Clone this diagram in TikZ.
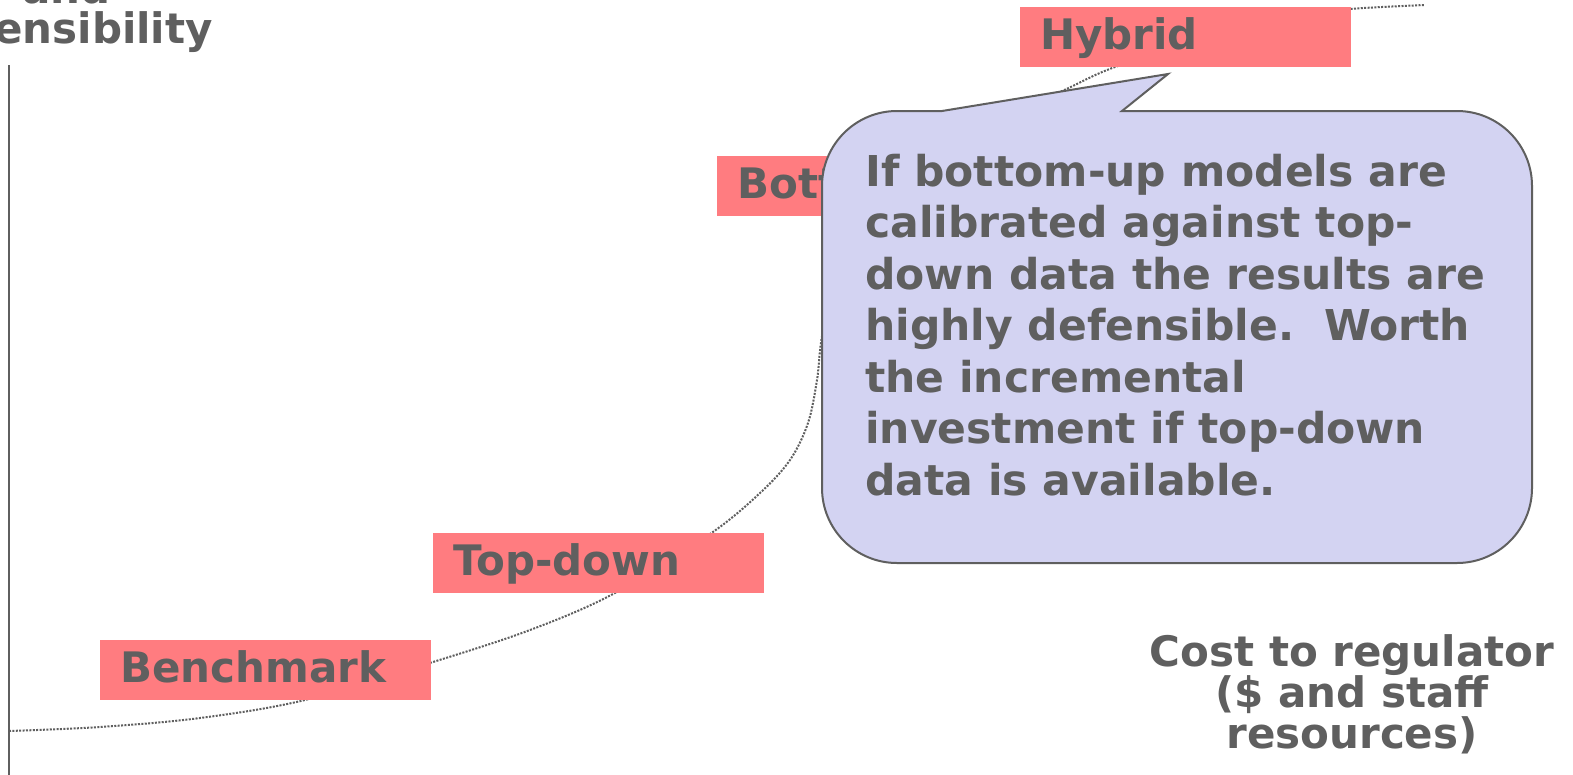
\documentclass[tikz,border=0pt]{standalone}
\usepackage{fontspec}
\setmainfont{DejaVu Sans}
\definecolor{inkgray}{HTML}{5F5F5F}
\definecolor{salmon}{HTML}{FF7C80}
\definecolor{lavender}{HTML}{D3D3F2}
\begin{document}
\begin{tikzpicture}[x=1pt,y=-1pt,
  every node/.style={text=inkgray,font=\fontsize{42}{41}\selectfont\bfseries},
  method/.style={fill=salmon,draw=none,anchor=north west,inner xsep=20pt,inner ysep=0pt,
    text width=291pt,align=left,text height=42pt,text depth=18pt},
  trend/.style={draw=inkgray,line width=2pt,dash pattern=on 2pt off 1.4pt},
  axisline/.style={draw=inkgray,line width=2pt},
  callout/.style={fill=lavender,draw=inkgray,line width=2pt,line join=miter}]
\clip (0,0) rectangle (1573,774);
\fill[white] (0,0) rectangle (1573,774);

% vertical axis
\coordinate (ytop) at (9,65);
\coordinate (ybot) at (9,780);
\draw[axisline] (ytop) -- (ybot);

% axis titles
\node[anchor=base,inner sep=0pt] (ylab1) at (66.5,3) {and};
\node[anchor=base east,inner sep=0pt] (ylab2) at (213,43) {Defensibility};
\node[align=center,anchor=base,inner sep=0pt] (xlab) at (1352,748)
  {Cost to regulator\\(\$ and staff\\resources)};

% trend curve through the methods
\coordinate (p1) at (9,731);
\coordinate (p2) at (100,727);
\coordinate (p3) at (200,718);
\coordinate (p4) at (305,700);
\coordinate (p5) at (433,662);
\coordinate (p6) at (530,630);
\coordinate (p7) at (613,594);
\coordinate (p8) at (710,534);
\coordinate (p9) at (760,493);
\coordinate (p10) at (790,460);
\coordinate (p11) at (808,423);
\coordinate (p12) at (817,380);
\coordinate (p13) at (824,327);
\coordinate (p14) at (850,250);
\coordinate (p15) at (920,175);
\coordinate (p16) at (990,122);
\coordinate (p17) at (1062,91);
\coordinate (p18) at (1115,67);
\coordinate (p19) at (1210,38);
\coordinate (p20) at (1300,16);
\coordinate (p21) at (1350,9);
\coordinate (p22) at (1425,5);
\draw[trend] plot[smooth,tension=0.55] coordinates {(p1) (p2) (p3) (p4) (p5) (p6) (p7) (p8) (p9) (p10) (p11) (p12) (p13) (p14) (p15) (p16) (p17) (p18) (p19) (p20) (p21) (p22)};

% method boxes
\node[method] (bench) at (100,640) {Benchmark};
\node[method] (topdown) at (433,533) {Top-down};
\node[method] (bottomup) at (717,156) {Bottom-up};
\node[method] (hybrid) at (1020,7) {Hybrid};

% speech bubble
\coordinate (tip) at (1168,74);
\path[callout] (942,111) -- (tip) -- (1122,111) -- (1457,111)
  .. controls (1498.4,111) and (1532,144.6) .. (1532,186) -- (1532,488)
  .. controls (1532,529.4) and (1498.4,563) .. (1457,563) -- (897,563)
  .. controls (855.6,563) and (822,529.4) .. (822,488) -- (822,186)
  .. controls (822,144.6) and (855.6,111) .. (897,111) -- cycle;
\node[anchor=base west,align=left,inner sep=0pt,
  font=\fontsize{42.5}{51.5}\selectfont\bfseries] (note) at (865,495)
  {If bottom-up models are\\calibrated against top-\\down data the results are\\highly defensible.\ \ Worth\\the incremental\\investment if top-down\\data is available.};
\end{tikzpicture}
\end{document}
